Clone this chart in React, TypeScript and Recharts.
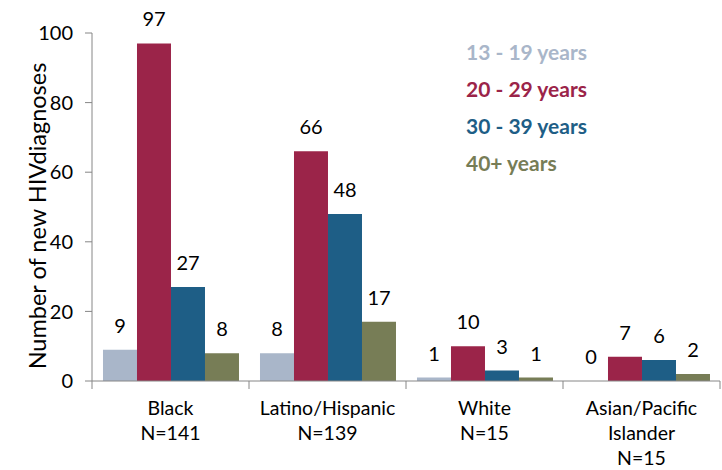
import React from "react";
import { BarChart, Bar, XAxis, YAxis, LabelList } from "recharts";

const categories = ["Black\nN=141", "Latino/Hispanic\nN=139", "White\nN=15", "Asian/Pacific\nIslander\nN=15"];
const seriesNames = ["13 - 19 years", "20 - 29 years", "30 - 39 years", "40+ years"];
const seriesColors = ["#A9B6C9", "#9B2449", "#1E5E86", "#777D56"];
const age13to19 = [9, 8, 1, 0];
const age20to29 = [97, 66, 10, 7];
const age30to39 = [27, 48, 3, 6];
const age40plus = [8, 17, 1, 2];
const yTicks = [0, 20, 40, 60, 80, 100];

const seriesValues = [age13to19, age20to29, age30to39, age40plus];
const data = categories.map((name, i) => {
  const row: Record<string, string | number> = { name };
  seriesNames.forEach((s, k) => (row[s] = seriesValues[k][i]));
  return row;
});

const W = 722;
const H = 470;
const Y_AXIS_W = 92;
const RIGHT = 2;
const band = (W - Y_AXIS_W - RIGHT) / categories.length;
const axisColor = "#868686";
const font = "Lato, 'Open Sans', sans-serif";

const CategoryTick = (props: any) => {
  const { x, y, payload, index } = props;
  const lines = String(payload.value).split("\n");
  return (
    <g>
      <line x1={x - band / 2} x2={x - band / 2} y1={y} y2={y + 8} stroke={axisColor} />
      {index === categories.length - 1 && (
        <line x1={x + band / 2} x2={x + band / 2} y1={y} y2={y + 8} stroke={axisColor} />
      )}
      <text x={x} y={y} textAnchor="middle" fontSize={19.5} fill="#000">
        {lines.map((l, i) => (
          <tspan key={i} x={x} y={y + 34 + i * 25}>
            {l}
          </tspan>
        ))}
      </text>
    </g>
  );
};

// value label above each bar, drawn even when the value is 0
const ValueLabel = (props: any) => {
  const { x, y, width, value } = props;
  return (
    <text x={x + width / 2} y={y - 17} textAnchor="middle" fontSize={20} fill="#000">
      {value}
    </text>
  );
};

const YLabel = () => (
  <text
    x={37}
    y={216}
    transform="rotate(-90 37 216)"
    textAnchor="middle"
    dominantBaseline="central"
    fontSize={23.5}
    fill="#000"
  >
    Number of new HIVdiagnoses
  </text>
);

export default function App() {
  return (
    <div style={{ position: "absolute", left: 0, top: 0, width: W, height: H, fontFamily: font, background: "#fff" }}>
      <BarChart
        width={W}
        height={H}
        data={data}
        margin={{ top: 33, right: RIGHT, left: 0, bottom: 0 }}
        barCategoryGap="7%"
        barGap={0}
      >
        <XAxis
          dataKey="name"
          height={89}
          stroke={axisColor}
          tickLine={false}
          tickSize={0}
          tickMargin={0}
          interval={0}
          tick={<CategoryTick />}
        />
        <YAxis
          width={Y_AXIS_W}
          domain={[0, 100]}
          ticks={yTicks}
          stroke={axisColor}
          tickSize={7}
          tickMargin={12}
          tick={{ fill: "#000", fontSize: 20 }}
          label={{ content: () => <YLabel /> }}
        />
        {seriesNames.map((s, k) => (
          <Bar key={s} dataKey={s} fill={seriesColors[k]} minPointSize={0.01} isAnimationActive={false}>
            <LabelList dataKey={s} content={<ValueLabel />} />
          </Bar>
        ))}
      </BarChart>
      <div style={{ position: "absolute", left: 466, top: 33 }}>
        {seriesNames.map((s, k) => (
          <div key={s} style={{ color: seriesColors[k], fontWeight: 700, fontSize: 21, lineHeight: "37px", height: 37 }}>
            {s}
          </div>
        ))}
      </div>
    </div>
  );
}
